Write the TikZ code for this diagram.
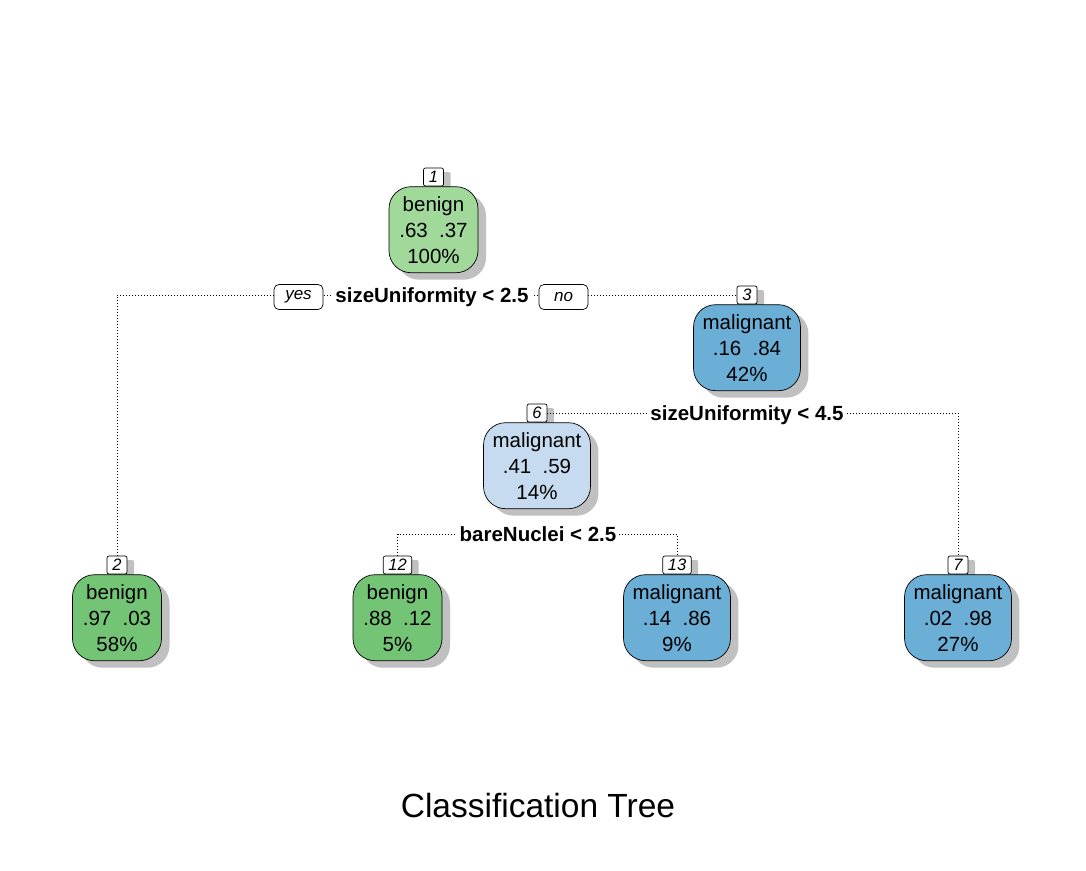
\documentclass[tikz,border=0pt]{standalone}
\usepackage{fontspec}
\setmainfont{Liberation Sans}
\usetikzlibrary{positioning,shadows}
\definecolor{BenignLight}{RGB}{161,217,155}
\definecolor{BenignGreen}{RGB}{116,196,118}
\definecolor{MalignBlue}{RGB}{107,174,214}
\definecolor{MalignLight}{RGB}{198,219,239}
\definecolor{ShadeGray}{RGB}{192,192,192}

\begin{document}
\begin{tikzpicture}[x=1pt,y=-1pt,
    box/.style={draw=black,line width=0.7pt,rounded corners=22pt,minimum width=89pt,
      minimum height=86pt,inner xsep=9pt,align=center,
      font=\fontsize{20.5}{26}\selectfont,
      drop shadow={shadow xshift=8pt,shadow yshift=-7pt,fill=ShadeGray,opacity=1}},
    tag/.style={draw=black,fill=white,line width=0.7pt,rounded corners=2pt,
      minimum width=20pt,minimum height=18pt,inner xsep=5pt,inner ysep=0pt,
      font=\fontsize{16.5}{16.5}\itshape\selectfont,
      drop shadow={shadow xshift=7pt,shadow yshift=-4pt,fill=ShadeGray,opacity=1}},
    answer/.style={draw=black,fill=white,line width=0.7pt,rounded corners=5pt,
      minimum width=49pt,minimum height=25pt,inner sep=1pt,
      font=\fontsize{17}{17}\itshape\selectfont},
    split/.style={fill=white,inner xsep=3pt,inner ysep=1pt,
      font=\fontsize{20.5}{24}\bfseries\selectfont},
    edge/.style={line width=0.9pt,dash pattern=on 0.9pt off 2.1pt}]
  \useasboundingbox (0,0) rectangle (1086,870);

  % root and inner nodes
  \node[tag] (t1) at (433.5,177) {1};
  \node[box,fill=BenignLight,below=0pt of t1] (n1) {benign\\.63\hspace{0.55em}.37\\100\%};
  \node[tag] (t3) at (747,295) {3};
  \node[box,fill=MalignBlue,below=0pt of t3] (n3) {malignant\\.16\hspace{0.55em}.84\\42\%};
  \node[tag] (t6) at (537,413) {6};
  \node[box,fill=MalignLight,below=0pt of t6] (n6) {malignant\\.41\hspace{0.55em}.59\\14\%};

  % leaves
  \node[tag] (t2) at (117,565) {2};
  \node[box,fill=BenignGreen,below=0pt of t2] (n2) {benign\\.97\hspace{0.55em}.03\\58\%};
  \node[tag] (t12) at (397.5,565) {12};
  \node[box,fill=BenignGreen,below=0pt of t12] (n12) {benign\\.88\hspace{0.55em}.12\\5\%};
  \node[tag] (t13) at (677,565) {13};
  \node[box,fill=MalignBlue,below=0pt of t13] (n13) {malignant\\.14\hspace{0.55em}.86\\9\%};
  \node[tag] (t7) at (958,565) {7};
  \node[box,fill=MalignBlue,below=0pt of t7] (n7) {malignant\\.02\hspace{0.55em}.98\\27\%};

  % splits
  \coordinate (s3) at (538,534);
  \draw[edge] (t2.north) |- (t3.west);
  \draw[edge] (t6.east) -| (t7.north);
  \draw[edge] (t12.north) |- (s3) -| (t13.north);

  \node[answer] (yes) at (298.5,297) {yes};
  \node[split] (l1) at (432,297) {sizeUniformity < 2.5};
  \node[answer] (no) at (563.5,297) {no};
  \node[split] (l3) at (747,415) {sizeUniformity < 4.5};
  \node[split] (l6) at (s3) {bareNuclei < 2.5};

  \node[font=\fontsize{33.5}{36}\selectfont] (title) at (538,806) {Classification Tree};
\end{tikzpicture}
\end{document}
